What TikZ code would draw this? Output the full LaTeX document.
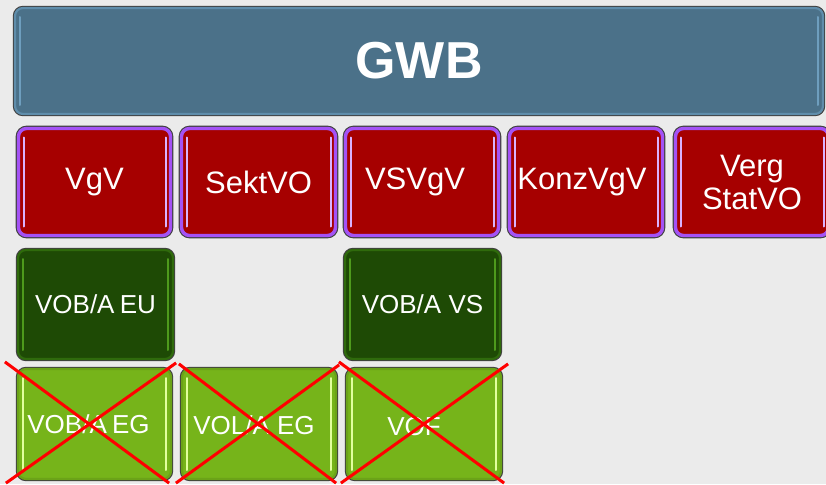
\documentclass[tikz,border=0pt]{standalone}
\usepackage{fontspec}
\setmainfont{Liberation Sans}
\definecolor{bg}{HTML}{EBEBEB}
\definecolor{gwbfill}{HTML}{4B7189}
\definecolor{gwbedge}{HTML}{5F8DAB}
\definecolor{gwbhl}{HTML}{6E9EBE}
\definecolor{redfill}{HTML}{A60000}
\definecolor{rededge}{HTML}{A452F5}
\definecolor{redhl}{HTML}{D9B2FF}
\definecolor{dgfill}{HTML}{1E4A05}
\definecolor{dgedge}{HTML}{2F6A0C}
\definecolor{dghl}{HTML}{4E9A1C}
\definecolor{lgfill}{HTML}{76B41A}
\definecolor{lgedge}{HTML}{6BA318}
\definecolor{lghl}{HTML}{E2FF9E}
\definecolor{xred}{HTML}{FF0000}
\tikzset{
  box/.style n args={4}{
    rounded corners=8pt, inner sep=0pt, text=white, align=center,
    fill=#1, draw=#2, line width=#4,
    preaction={draw=black!75, line width=#4+2.2pt},
    path picture={
      \draw[#3, line width=2pt, line cap=round]
        ([xshift=5pt,yshift=-9pt]path picture bounding box.north west) --
        ([xshift=5pt,yshift=9pt]path picture bounding box.south west);
      \draw[#3, line width=2pt, line cap=round]
        ([xshift=-5pt,yshift=-9pt]path picture bounding box.north east) --
        ([xshift=-5pt,yshift=9pt]path picture bounding box.south east);
    }},
  gwbbox/.style={box={gwbfill}{gwbedge}{gwbhl}{2.2pt}, font=\fontsize{52}{60}\selectfont\bfseries},
  redbox/.style={box={redfill}{rededge}{redhl}{3.4pt}, font=\fontsize{31}{33}\selectfont},
  dgbox/.style={box={dgfill}{dgedge}{dghl}{2.2pt}, font=\fontsize{26}{30}\selectfont},
  lgbox/.style={box={lgfill}{lgedge}{lghl}{2.2pt}, font=\fontsize{26}{30}\selectfont},
  lbl/.style={text=white, inner sep=0pt, font=\fontsize{26}{30}\selectfont},
  cross/.style={draw=xred, line width=3pt}
}
\begin{document}
\begin{tikzpicture}[x=1pt,y=-1pt]
\useasboundingbox (0,0) rectangle (826,484);
\fill[bg] (0,0) rectangle (826,484);

% top
\node[gwbbox, minimum width=808pt, minimum height=106pt] (gwb) at (419,61) {GWB};

% red row
\node[redbox, minimum width=152pt, minimum height=107pt] (vgv) at (94.5,182) {\raisebox{2pt}{VgV}};
\node[redbox, minimum width=154pt, minimum height=107pt] (sekt) at (258.5,182) {SektVO};
\node[redbox, minimum width=153pt, minimum height=107pt] (vsvgv) at (422,182) {\hspace*{-14pt}VSVgV};
\node[redbox, minimum width=153pt, minimum height=107pt] (konz) at (586,182) {\hspace*{-8pt}KonzVgV};
\node[redbox, minimum width=153pt, minimum height=107pt] (verg) at (752,182) {Verg\\StatVO};

% dark green row
\node[dgbox, minimum width=155pt, minimum height=109pt] (vobeu) at (95.5,304.5) {\raisebox{-1pt}{VOB/A\hspace{-2pt} EU}};
\node[dgbox, minimum width=155pt, minimum height=109pt] (vobvs) at (422.5,304.5) {\raisebox{-1pt}{VOB/A VS}};

% light green row
\node[lgbox, minimum width=153pt, minimum height=110pt,
      label={[lbl, xshift=-6pt, yshift=0pt]center:VOB/A\hspace{-2pt} EG}] (vobeg) at (94.5,424) {};
\node[lgbox, minimum width=154pt, minimum height=110pt,
      label={[lbl, xshift=-5pt, yshift=-1pt]center:VOL/A EG}] (voleg) at (259,424) {};
\node[lgbox, minimum width=154pt, minimum height=110pt,
      label={[lbl, xshift=-10pt, yshift=-3pt]center:VOF}] (vof) at (424,424) {};

% crosses
\draw[cross] ([shift={(-12,-6)}]vobeg.north west) -- ([shift={(-3,3)}]vobeg.south east);
\draw[cross] ([shift={(4,-5)}]vobeg.north east) -- ([shift={(-11,3)}]vobeg.south west);
\draw[cross] ([shift={(-2,-4)}]voleg.north west) -- ([shift={(-1,3)}]voleg.south east);
\draw[cross] ([shift={(2,-3)}]voleg.north east) -- ([shift={(-5,3)}]voleg.south west);
\draw[cross] ([shift={(-7,-6)}]vof.north west) -- ([shift={(2,3)}]vof.south east);
\draw[cross] ([shift={(6,-4)}]vof.north east) -- ([shift={(-5,3)}]vof.south west);
\end{tikzpicture}
\end{document}
